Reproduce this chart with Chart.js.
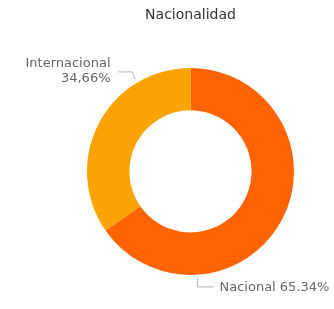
<!DOCTYPE html>
<html>
<head>
<meta charset="utf-8">
<script src="https://cdn.jsdelivr.net/npm/chart.js@4"></script>
<style>
  html, body { margin: 0; padding: 0; background: #fff; }
  #wrap { width: 334px; height: 309px; }
</style>
</head>
<body>
<div id="wrap"><canvas id="chart"></canvas></div>
<script>
// Data
const categories = ['Nacional', 'Internacional'];
const values = [65.34, 34.66];
const valueLabels = ['65.34%', '34,66%'];
const colors = ['#FF6400', '#FBA300'];

// Leader lines + labels like the original report
const sliceLabels = {
    id: 'sliceLabels',
    afterDraw(chart) {
        const ctx = chart.ctx;
        const arc = chart.getDatasetMeta(0).data[0];
        const cx = arc.x, cy = arc.y, r = arc.outerRadius;

        ctx.save();
        ctx.strokeStyle = '#b5b5b5';
        ctx.lineWidth = 1;
        ctx.fillStyle = '#666666';
        ctx.font = '13px "DejaVu Sans"';

        // Internacional (upper left)
        let a = -121 * Math.PI / 180;
        ctx.beginPath();
        ctx.moveTo(cx + Math.cos(a) * (r + 4), cy + Math.sin(a) * (r + 4));
        ctx.lineTo(cx - 58, cy - 99.5);
        ctx.lineTo(cx - 72, cy - 99.5);
        ctx.stroke();
        ctx.textAlign = 'right';
        ctx.textBaseline = 'alphabetic';
        ctx.fillText(categories[1], cx - 80, cy - 104);
        ctx.fillText(valueLabels[1], cx - 80, cy - 89);

        // Nacional (bottom)
        a = 86.5 * Math.PI / 180;
        const sx = Math.round(cx + Math.cos(a) * (r + 3)) + 0.5;
        ctx.beginPath();
        ctx.moveTo(sx, cy + Math.sin(a) * (r + 3));
        ctx.lineTo(sx, cy + 115.5);
        ctx.lineTo(sx + 16, cy + 115.5);
        ctx.stroke();
        ctx.textAlign = 'left';
        ctx.textBaseline = 'middle';
        ctx.fillText(categories[0] + ' ' + valueLabels[0], sx + 22, cy + 116);
        ctx.restore();
    }
};

new Chart(document.getElementById('chart'), {
    type: 'doughnut',
    data: {
        labels: categories,
        datasets: [{
            data: values,
            backgroundColor: colors,
            borderWidth: 0
        }]
    },
    options: {
        responsive: true,
        maintainAspectRatio: false,
        animation: false,
        cutout: '59%',
        layout: {
            padding: { top: 0, bottom: 34, left: 87, right: 40 }
        },
        plugins: {
            legend: { display: false },
            tooltip: { enabled: false },
            title: {
                display: true,
                text: 'Nacionalidad',
                color: '#333333',
                font: { family: 'DejaVu Sans', size: 14, weight: 'normal' },
                padding: { top: 7, bottom: 44 }
            }
        }
    },
    plugins: [sliceLabels]
});
</script>
</body>
</html>
